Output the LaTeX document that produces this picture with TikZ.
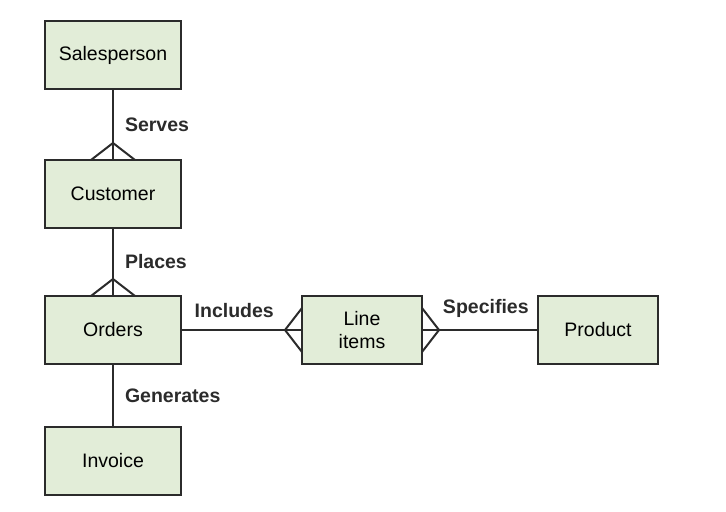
\documentclass[tikz,border=0pt]{standalone}
\usepackage{fontspec}
\setmainfont{Liberation Sans}
\usepackage{xcolor}
\usetikzlibrary{calc,positioning}
\definecolor{entityfill}{HTML}{E2EDD8}
\definecolor{entityline}{HTML}{2B2B2B}
\tikzset{
   er/.style={%
      x=.5pt, y=-.5pt,
      font=\fontsize{9.75}{11.5}\selectfont,
      link/.style={draw=entityline, line width=1pt},
      entity/.style={
         draw=entityline, fill=entityfill, line width=1pt,
         minimum width=68pt, minimum height=34pt,
         inner sep=0pt, outer sep=0pt, align=center},
      small entity/.style={minimum width=60pt},
      rel/.style={font=\fontsize{9.75}{11.5}\selectfont\bfseries, text=entityline, inner sep=2pt}
      }
}
% crow's foot: #1 = anchor on the box, #2 = direction of the line leaving it
\newcommand{\crowsfoot}[2]{
   \draw[link] ($(#1)+(#2:8.5pt)$) coordinate (apex) -- ($(#1)+(#2+90:11pt)$)
      (apex) -- ($(#1)+(#2-90:11pt)$);
}

\begin{document}
\begin{tikzpicture}[er]
  \useasboundingbox (0,0) rectangle (726,512);
  \node[entity] (sales) at (113,55) {Salesperson};
  \node[entity, below=35.5pt of sales] (cust) {Customer};
  \node[entity, below=34pt of cust] (orders) {Orders};
  \node[entity, below=31.5pt of orders] (invoice) {Invoice};
  \node[entity, small entity, right=60.5pt of orders] (items) {Line\\items};
  \node[entity, small entity, right=58pt of items] (product) {Product};
  \draw[link] (sales) -- node[rel, right=3.5pt] {Serves} (cust);
  \draw[link] (cust) -- node[rel, right=3.5pt] {Places} (orders);
  \draw[link] (orders) -- node[rel, right=3.5pt] {Generates} (invoice);
  \draw[link] (orders) -- node[rel, above=3.5pt, pos=.44] {Includes} (items);
  \draw[link] (items) -- node[rel, above=3.5pt, pos=.55] {Specifies} (product);
  \crowsfoot{cust.north}{90}
  \crowsfoot{orders.north}{90}
  \crowsfoot{items.west}{180}
  \crowsfoot{items.east}{0}
\end{tikzpicture}
\end{document}
